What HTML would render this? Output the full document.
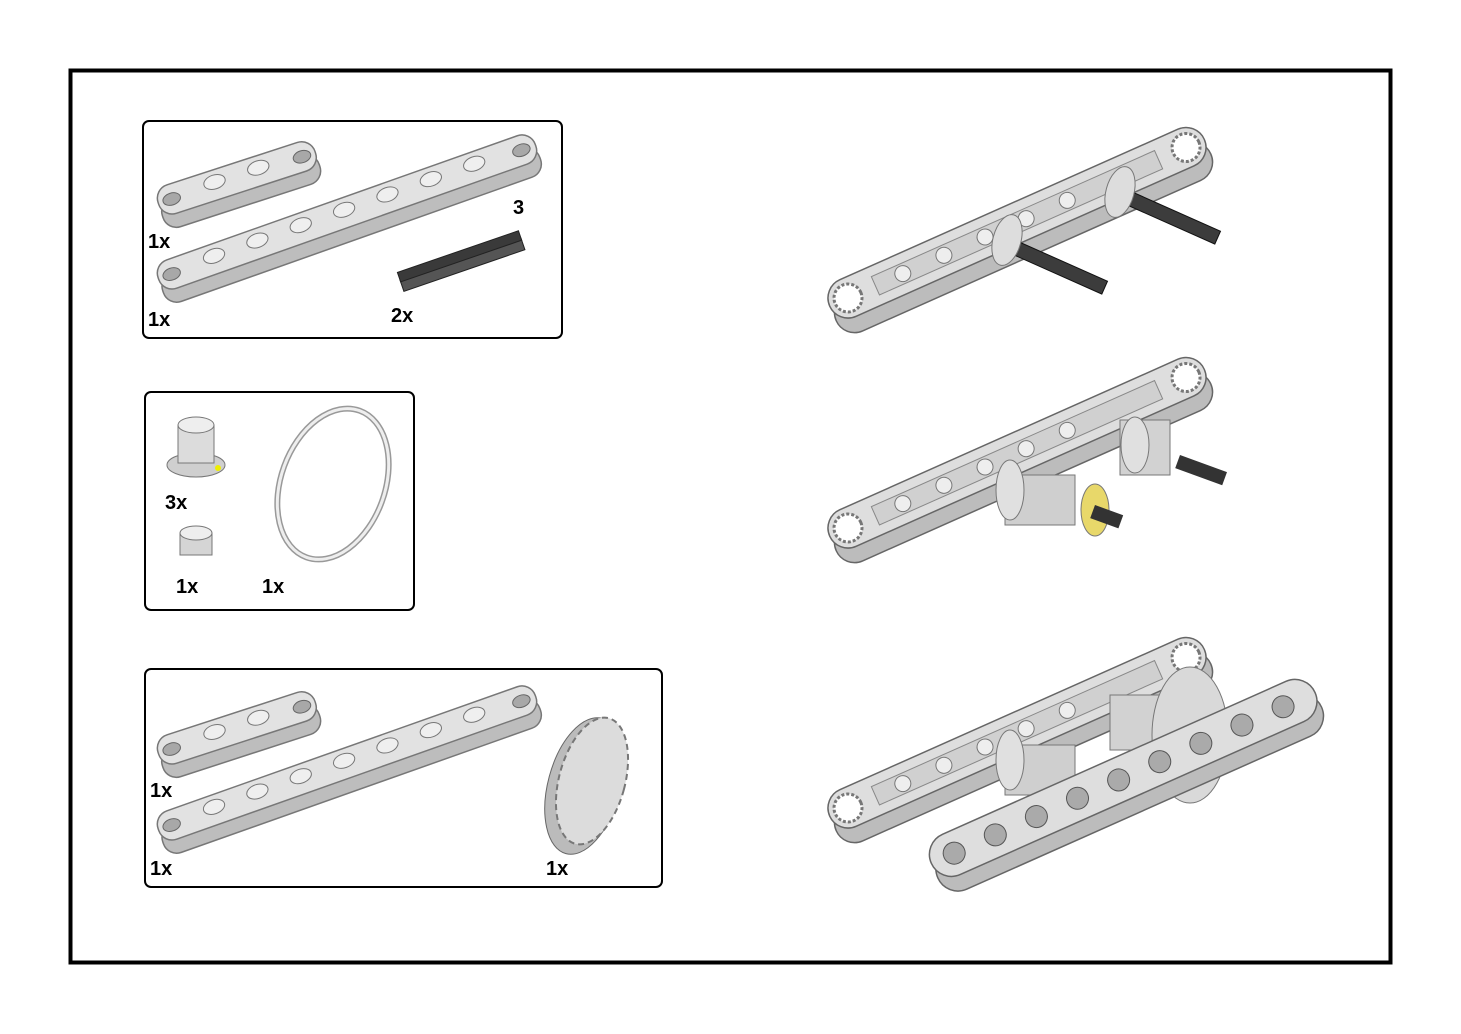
<!DOCTYPE html>
<html><head><meta charset="utf-8"><style>
html,body{margin:0;padding:0;background:#fff;}
svg{display:block;}
text{font-family:"Liberation Sans",Arial,sans-serif;font-weight:bold;font-size:20px;fill:#000;}
</style></head><body>
<svg width="1461" height="1034" viewBox="0 0 1461 1034" xmlns="http://www.w3.org/2000/svg">
<defs>
  <g id="beam9">
    <rect x="-14" y="-2" width="400" height="30" rx="14" fill="#bdbdbd" stroke="#777" stroke-width="1.5"/>
    <rect x="-14" y="-16" width="400" height="30" rx="14" fill="#e2e2e2" stroke="#777" stroke-width="1.5"/>
    <ellipse cx="0" cy="-1" rx="9" ry="6" fill="#a8a8a8" stroke="#666"/>
    <ellipse cx="371" cy="-1" rx="9" ry="6" fill="#a8a8a8" stroke="#666"/>
    <g fill="#efefef" stroke="#777">
      <ellipse cx="46" cy="-4" rx="11" ry="7"/><ellipse cx="92" cy="-4" rx="11" ry="7"/>
      <ellipse cx="138" cy="-4" rx="11" ry="7"/><ellipse cx="184" cy="-4" rx="11" ry="7"/>
      <ellipse cx="230" cy="-4" rx="11" ry="7"/><ellipse cx="276" cy="-4" rx="11" ry="7"/>
      <ellipse cx="322" cy="-4" rx="11" ry="7"/>
    </g>
  </g>
  <g id="beam4">
    <rect x="-14" y="-2" width="165" height="30" rx="14" fill="#bdbdbd" stroke="#777" stroke-width="1.5"/>
    <rect x="-14" y="-16" width="165" height="30" rx="14" fill="#e2e2e2" stroke="#777" stroke-width="1.5"/>
    <ellipse cx="0" cy="-1" rx="9" ry="6" fill="#a8a8a8" stroke="#666"/>
    <ellipse cx="137" cy="-1" rx="9" ry="6" fill="#a8a8a8" stroke="#666"/>
    <g fill="#efefef" stroke="#777">
      <ellipse cx="46" cy="-4" rx="11" ry="7"/><ellipse cx="92" cy="-4" rx="11" ry="7"/>
    </g>
  </g>
  <g id="bigbeam">
    <rect x="-20" y="-4" width="410" height="40" rx="20" fill="#bcbcbc" stroke="#666" stroke-width="1.5"/>
    <rect x="-20" y="-20" width="410" height="40" rx="20" fill="#dedede" stroke="#666" stroke-width="1.5"/>
    <circle cx="0" cy="0" r="14" fill="#fff" stroke="#777" stroke-width="3" stroke-dasharray="3 2"/>
    <circle cx="370" cy="0" r="14" fill="#fff" stroke="#777" stroke-width="3" stroke-dasharray="3 2"/>
    <rect x="30" y="-10" width="310" height="20" fill="#d0d0d0" stroke="#888"/>
    <g fill="#eee" stroke="#777"><circle cx="60" cy="0" r="8"/><circle cx="105" cy="0" r="8"/><circle cx="150" cy="0" r="8"/><circle cx="195" cy="0" r="8"/><circle cx="240" cy="0" r="8"/></g>
  </g>
</defs>

<rect x="70.5" y="70.5" width="1320" height="892" fill="none" stroke="#000" stroke-width="4"/>

<!-- box 1 -->
<rect x="143" y="121" width="419" height="217" rx="6" fill="#fff" stroke="#000" stroke-width="2"/>
<use href="#beam4" transform="translate(172,200) rotate(-18)"/>
<use href="#beam9" transform="translate(172,275) rotate(-19.5)"/>
<g transform="translate(400,280) rotate(-19)"><rect x="0" y="0" width="128" height="12" fill="#555" stroke="#222"/><rect x="0" y="-8" width="128" height="10" fill="#3a3a3a" stroke="#222"/></g>
<text x="148" y="248">1x</text><text x="148" y="326">1x</text><text x="391" y="322">2x</text><text x="513" y="214">3</text>

<!-- box 2 -->
<rect x="145" y="392" width="269" height="218" rx="6" fill="#fff" stroke="#000" stroke-width="2"/>
<ellipse cx="196" cy="465" rx="29" ry="12" fill="#cfcfcf" stroke="#777"/>
<rect x="178" y="425" width="36" height="38" fill="#dcdcdc" stroke="#777"/>
<ellipse cx="196" cy="425" rx="18" ry="8" fill="#eee" stroke="#777"/>
<circle cx="218" cy="468" r="3" fill="#ee0"/>
<rect x="180" y="533" width="32" height="22" fill="#d5d5d5" stroke="#777"/>
<ellipse cx="196" cy="533" rx="16" ry="7" fill="#eee" stroke="#777"/>
<ellipse cx="333" cy="484" rx="52" ry="78" transform="rotate(20 333 484)" fill="none" stroke="#999" stroke-width="6"/>
<ellipse cx="333" cy="484" rx="52" ry="78" transform="rotate(20 333 484)" fill="none" stroke="#eee" stroke-width="3"/>
<text x="165" y="509">3x</text><text x="176" y="593">1x</text><text x="262" y="593">1x</text>

<!-- box 3 -->
<rect x="145" y="669" width="517" height="218" rx="6" fill="#fff" stroke="#000" stroke-width="2"/>
<use href="#beam4" transform="translate(172,750) rotate(-18)"/>
<use href="#beam9" transform="translate(172,826) rotate(-19.5)"/>
<ellipse cx="584" cy="786" rx="36" ry="70" transform="rotate(15 584 786)" fill="#bbb" stroke="#666"/>
<ellipse cx="592" cy="781" rx="33" ry="65" transform="rotate(15 592 781)" fill="#dcdcdc" stroke="#777" stroke-dasharray="6 4" stroke-width="2"/>
<text x="150" y="797">1x</text><text x="150" y="875">1x</text><text x="546" y="875">1x</text>

<!-- right assemblies -->
<use href="#bigbeam" transform="translate(848,298) rotate(-24)"/>
<g transform="translate(1000,240) rotate(24)"><rect x="0" y="-6" width="115" height="14" fill="#3c3c3c" stroke="#111"/></g>
<g transform="translate(1113,190) rotate(24)"><rect x="0" y="-6" width="115" height="14" fill="#3c3c3c" stroke="#111"/></g>
<ellipse cx="1007" cy="240" rx="14" ry="26" transform="rotate(15 1007 240)" fill="#ddd" stroke="#777"/>
<ellipse cx="1120" cy="192" rx="14" ry="26" transform="rotate(15 1120 192)" fill="#ddd" stroke="#777"/>

<use href="#bigbeam" transform="translate(848,528) rotate(-24)"/>
<rect x="1005" y="475" width="70" height="50" fill="#cfcfcf" stroke="#777"/>
<ellipse cx="1010" cy="490" rx="14" ry="30" fill="#e0e0e0" stroke="#777"/>
<ellipse cx="1095" cy="510" rx="14" ry="26" fill="#e8d86a" stroke="#777"/>
<rect x="1120" y="420" width="50" height="55" fill="#d2d2d2" stroke="#777"/>
<ellipse cx="1135" cy="445" rx="14" ry="28" fill="#e0e0e0" stroke="#777"/>
<rect x="1095" y="505" width="30" height="14" fill="#333" transform="rotate(20 1095 505)"/>
<rect x="1180" y="455" width="50" height="14" fill="#333" transform="rotate(20 1180 455)"/>

<use href="#bigbeam" transform="translate(848,808) rotate(-24)"/>
<rect x="1005" y="745" width="70" height="50" fill="#cfcfcf" stroke="#777"/>
<ellipse cx="1010" cy="760" rx="14" ry="30" fill="#e0e0e0" stroke="#777"/>
<rect x="1110" y="695" width="50" height="55" fill="#d2d2d2" stroke="#777"/>
<ellipse cx="1190" cy="735" rx="38" ry="68" fill="#d9d9d9" stroke="#777"/>
<g transform="translate(955,855) rotate(-24)">
  <rect x="-25" y="-8" width="420" height="44" rx="22" fill="#bcbcbc" stroke="#666" stroke-width="1.5"/>
  <rect x="-25" y="-24" width="420" height="44" rx="22" fill="#dedede" stroke="#666" stroke-width="1.5"/>
  <g fill="#aaa" stroke="#555"><circle cx="0" cy="-2" r="11"/><circle cx="45" cy="-2" r="11"/><circle cx="90" cy="-2" r="11"/><circle cx="135" cy="-2" r="11"/><circle cx="180" cy="-2" r="11"/><circle cx="225" cy="-2" r="11"/><circle cx="270" cy="-2" r="11"/><circle cx="315" cy="-2" r="11"/><circle cx="360" cy="-2" r="11"/></g>
</g>
</svg>
</body></html>
